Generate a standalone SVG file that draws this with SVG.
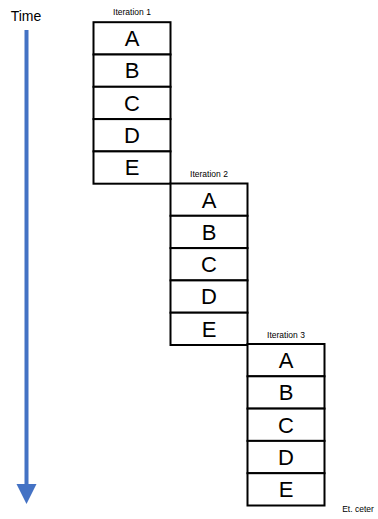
<svg xmlns="http://www.w3.org/2000/svg" width="378" height="519" viewBox="0 0 378 519">
  <style>
    .cell { fill: #ffffff; stroke: #000000; stroke-width: 2; }
    .letter { font-family: "Liberation Sans", Arial, sans-serif; font-size: 22px; text-anchor: middle; fill: #000000; }
    .caption { font-family: "Liberation Sans", Arial, sans-serif; font-size: 8.5px; text-anchor: middle; fill: #000000; }
    .time { font-family: "Liberation Sans", Arial, sans-serif; font-size: 14px; text-anchor: middle; fill: #000000; }
  </style>
  <defs>
    <!-- one column of five stacked cells, reused for every iteration -->
    <g id="stack">
      <rect class="cell" x="0" y="0" width="77" height="32.3"/>
      <rect class="cell" x="0" y="32.3" width="77" height="32.3"/>
      <rect class="cell" x="0" y="64.6" width="77" height="32.3"/>
      <rect class="cell" x="0" y="96.9" width="77" height="32.3"/>
      <rect class="cell" x="0" y="129.2" width="77" height="32.3"/>
      <text class="letter" x="38.5" y="24">A</text>
      <text class="letter" x="38.5" y="56.3">B</text>
      <text class="letter" x="38.5" y="88.6">C</text>
      <text class="letter" x="38.5" y="120.9">D</text>
      <text class="letter" x="38.5" y="153.2">E</text>
    </g>
  </defs>

  <!-- time axis -->
  <g id="time-axis">
    <text class="time" x="26" y="21">Time</text>
    <line x1="26.5" y1="30" x2="26.5" y2="486" stroke="#4472C4" stroke-width="4"/>
    <polygon points="16.5,484 36.5,484 26.5,504" fill="#4472C4"/>
  </g>

  <!-- iteration stacks -->
  <g id="iteration-1">
    <text class="caption" x="132" y="15">Iteration 1</text>
    <use href="#stack" x="93.5" y="22.2"/>
  </g>
  <g id="iteration-2">
    <text class="caption" x="209" y="177">Iteration 2</text>
    <use href="#stack" x="170.5" y="183.5"/>
  </g>
  <g id="iteration-3">
    <text class="caption" x="286" y="338">Iteration 3</text>
    <use href="#stack" x="247.5" y="344"/>
  </g>

  <text class="caption" x="358" y="512">Et. ceter</text>
</svg>
